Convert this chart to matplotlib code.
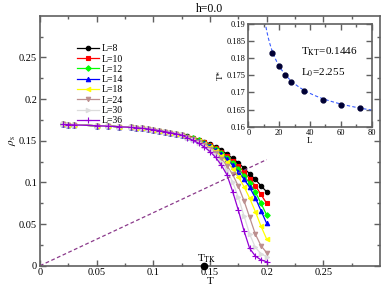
import numpy as np
import matplotlib
matplotlib.use("Agg")
import matplotlib.pyplot as plt

plt.rcParams['font.family'] = ['Liberation Serif', 'DejaVu Serif']
plt.rcParams['mathtext.fontset'] = 'stix'

# DATA
T = [0.02, 0.025, 0.03, 0.05, 0.06, 0.07, 0.08, 0.085, 0.09, 0.095, 0.1, 0.105,
     0.11, 0.115, 0.12, 0.125, 0.13, 0.135, 0.14, 0.145, 0.15, 0.155, 0.16,
     0.165, 0.17, 0.175, 0.18, 0.185, 0.19, 0.195, 0.2]
low = [0.1695, 0.1693, 0.169, 0.168, 0.1675, 0.1668, 0.166, 0.1655, 0.165, 0.1642,
       0.1633, 0.1622, 0.161, 0.1597, 0.1583, 0.1568]
rho_8 = low + [0.1552, 0.1535, 0.1513, 0.1487, 0.1459, 0.1427, 0.1387, 0.1339, 0.1288,
               0.1235, 0.1171, 0.1103, 0.1036, 0.0959, 0.0887]
rho_10 = low + [0.155, 0.1532, 0.1508, 0.148, 0.1449, 0.1412, 0.1368, 0.1317, 0.126,
                0.12, 0.1125, 0.1045, 0.096, 0.0855, 0.0748]
rho_12 = low + [0.1548, 0.1529, 0.1504, 0.1474, 0.144, 0.14, 0.1352, 0.1297, 0.1233,
                0.1165, 0.108, 0.099, 0.0885, 0.075, 0.0608]
rho_14 = low + [0.1546, 0.1526, 0.15, 0.1469, 0.1433, 0.139, 0.134, 0.128, 0.121,
                0.113, 0.104, 0.094, 0.0815, 0.066, 0.0508]
rho_18 = low + [0.1543, 0.1521, 0.1493, 0.146, 0.142, 0.1372, 0.1315, 0.1245, 0.1165,
                0.1065, 0.095, 0.081, 0.065, 0.0475, 0.032]
rho_24 = low + [0.154, 0.1516, 0.1486, 0.145, 0.1405, 0.1352, 0.1285, 0.12, 0.1095,
                0.0955, 0.078, 0.058, 0.038, 0.024, 0.0156]
rho_30 = low + [0.1537, 0.151, 0.1478, 0.1438, 0.1388, 0.1325, 0.1248, 0.1148, 0.1005,
                0.082, 0.06, 0.038, 0.022, 0.0145, 0.0108]
rho_36 = low + [0.1535, 0.1505, 0.147, 0.1425, 0.137, 0.13, 0.1207, 0.109, 0.089,
                0.0667, 0.042, 0.0208, 0.0116, 0.007, 0.0048]
sizes = ["L=8", "L=10", "L=12", "L=14", "L=18", "L=24", "L=30", "L=36"]
series = [rho_8, rho_10, rho_12, rho_14, rho_18, rho_24, rho_30, rho_36]

L_ins = [15.6, 19.9, 24.0, 27.9, 36.1, 48.2, 60.3, 72.2]
Tstar = [0.1816, 0.1778, 0.1751, 0.1731, 0.1704, 0.1679, 0.1664, 0.1654]
T_KT = 0.1446
L0 = 2.255

colors = ['black', '#ff0000', '#00ff00', '#0000ff', '#ffff00', '#bc8f8f', '#dcdcdc', '#9400d3']
markers = ['o', 's', 'D', '^', '<', 'v', '>', '+']
msizes = [3.2, 3.0, 2.8, 3.2, 3.2, 3.2, 3.2, 4.5]

spine_col = '#606060'

def style(ax, fs):
    for s in ax.spines.values():
        s.set_color(spine_col)
        s.set_linewidth(1.2)
    ax.tick_params(which='both', direction='in', top=True, right=True,
                   color=spine_col, labelsize=fs, pad=2)
    ax.tick_params(which='major', length=4, width=1)
    ax.tick_params(which='minor', length=2, width=1)

fig = plt.figure(figsize=(3.82, 2.91), dpi=100)
ax = fig.add_axes([0.1047, 0.0869, 0.890, 0.859])

for rho, lab, c, m, ms in zip(series, sizes, colors, markers, msizes):
    ax.plot(T, rho, color=c, marker=m, markersize=ms, lw=0.9, label=lab,
            markeredgewidth=0.8)

tl = np.array([0.0, 0.2])
ax.plot(tl, 2 * tl / np.pi, ls='--', color='#8b3a8b', lw=0.9, dashes=(3, 2))
ax.plot([T_KT], [0], 'o', color='black', markersize=4.5, clip_on=False, zorder=5)
ax.text(0.1475, 0.001, r"T$_{\rm TK}$", ha='center', va='bottom', fontsize=8)

ax.set_xlim(0, 0.3)
ax.set_ylim(0, 0.3)
ax.set_xticks([0, 0.05, 0.1, 0.15, 0.2, 0.25])
ax.set_xticklabels(['0', '0.05', '0.1', '0.15', '0.2', '0.25'])
ax.set_xticks(np.arange(0.025, 0.3, 0.05), minor=True)
ax.set_yticks([0, 0.05, 0.1, 0.15, 0.2, 0.25])
ax.set_yticklabels(['0', '0.05', '0.1', '0.15', '0.2', '0.25'])
ax.set_yticks(np.arange(0.025, 0.3, 0.05), minor=True)
style(ax, 7.5)
ax.set_xlabel("T", fontsize=8, labelpad=0)
ax.set_ylabel(r"$\rho_{\rm s}$", fontsize=8, labelpad=1)
ax.set_title("h=0.0", fontsize=8.5, pad=3)

ax.legend(loc='upper left', bbox_to_anchor=(0.095, 0.905), frameon=False,
          fontsize=7, handlelength=2.2, handletextpad=0.3, labelspacing=0.13,
          borderpad=0)

ins = fig.add_axes([0.650, 0.5646, 0.323, 0.3529])
Lf = np.linspace(10.8, 80, 200)
ins.plot(Lf, T_KT * (1 + 1 / (2 * np.log(Lf / L0))), ls='--', color='#3a5cff',
         lw=0.8, dashes=(3, 2))
ins.plot(L_ins, Tstar, 'o', color='#000033', markersize=3.5)
ins.set_xlim(0, 80)
ins.set_ylim(0.16, 0.19)
ins.set_xticks([0, 20, 40, 60, 80])
ins.set_xticks([10, 30, 50, 70], minor=True)
ins.set_yticks([0.16, 0.165, 0.17, 0.175, 0.18, 0.185, 0.19])
ins.set_yticklabels(['0.16', '0.165', '0.17', '0.175', '0.18', '0.185', '0.19'])
style(ins, 6)
ins.set_xlabel("L", fontsize=6.5, labelpad=0)
ins.set_ylabel("T*", fontsize=6.5, labelpad=1)
ins.text(0.43, 0.70, r"T$_{\rm KT}$=0.1446", transform=ins.transAxes, fontsize=8)
ins.text(0.43, 0.50, r"L$_{\rm 0}$=2.255", transform=ins.transAxes, fontsize=8)

fig.savefig("out.png", dpi=100)
